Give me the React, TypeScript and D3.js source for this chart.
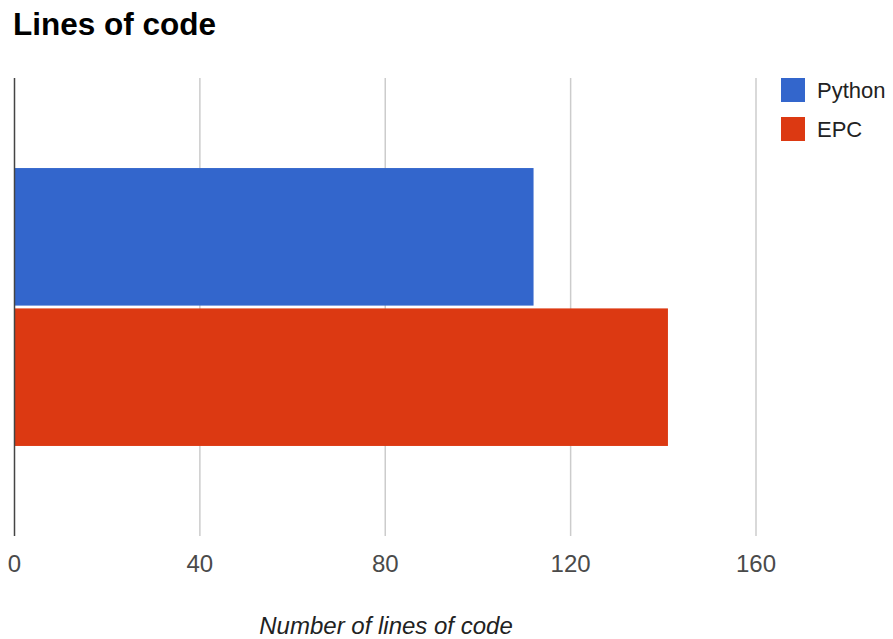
import React from "react";
import * as d3 from "d3";

const categories = ["Lines of code"];
const seriesNames = ["Python", "EPC"];
const seriesValues = [112, 141];
const seriesColors = ["#3366cc", "#dc3912"];
const xTicks = [0, 40, 80, 120, 160];

const W = 893;
const H = 639;
const FONT = "'Liberation Sans', Arial, sans-serif";

export default function App() {
  const left = 14.5;
  const right = 756;
  const top = 78;
  const bottom = 536;

  const x = d3.scaleLinear().domain([0, 160]).range([left, right]);
  const yOuter = d3
    .scaleBand<string>()
    .domain(categories)
    .range([top, bottom])
    .paddingInner(0)
    .paddingOuter(0.324);
  const yInner = d3
    .scaleBand<string>()
    .domain(seriesNames)
    .range([0, yOuter.bandwidth()])
    .paddingInner(0.02);

  return (
    <svg
      width={W}
      height={H}
      style={{ display: "block", background: "#fff", position: "fixed", top: 0, left: 0 }}
    >
      <text x={13} y={35} fontFamily={FONT} fontWeight="bold" fontSize={31.5} fill="#000">
        Lines of code
      </text>

      {xTicks.slice(1).map((t) => (
        <line key={t} x1={x(t)} x2={x(t)} y1={top} y2={bottom} stroke="#cccccc" strokeWidth={1.5} />
      ))}

      {categories.map((c) =>
        seriesNames.map((s, i) => (
          <rect
            key={c + s}
            x={x(0)}
            y={(yOuter(c) ?? 0) + (yInner(s) ?? 0)}
            width={x(seriesValues[i]) - x(0)}
            height={yInner.bandwidth()}
            fill={seriesColors[i]}
          />
        ))
      )}

      <line x1={x(0)} x2={x(0)} y1={top} y2={bottom} stroke="#444" strokeWidth={1.5} />

      {xTicks.map((t) => (
        <text key={t} x={x(t)} y={572} textAnchor="middle" fontFamily={FONT} fontSize={24} fill="#4a4a4a">
          {t}
        </text>
      ))}

      <text x={386} y={634} textAnchor="middle" fontFamily={FONT} fontStyle="italic" fontSize={24} fill="#222">
        Number of lines of code
      </text>

      {seriesNames.map((s, i) => (
        <g key={s} transform={`translate(781, ${78 + i * 39})`}>
          <rect x={0} y={0} width={24} height={24} fill={seriesColors[i]} />
          <text x={36} y={20} fontFamily={FONT} fontSize={22} fill="#222">
            {s}
          </text>
        </g>
      ))}
    </svg>
  );
}
